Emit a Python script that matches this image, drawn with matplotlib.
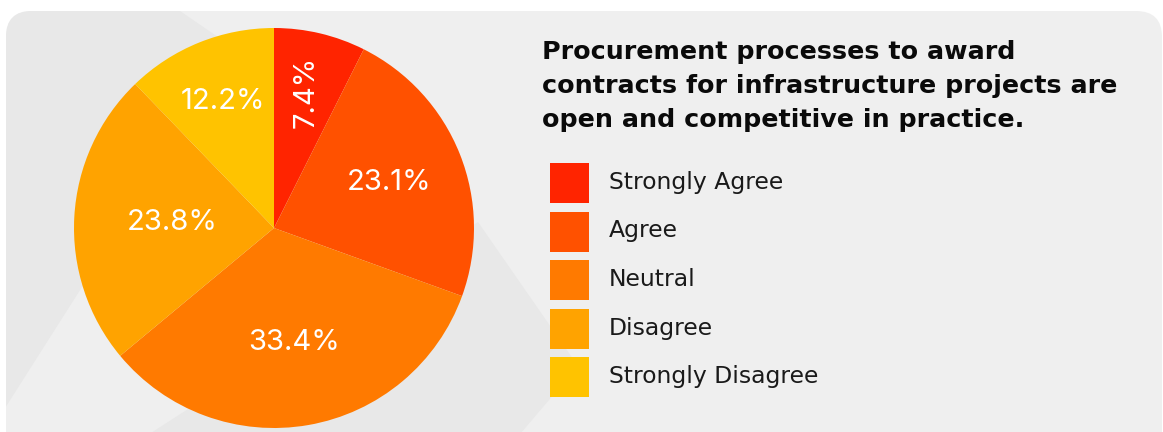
import matplotlib.pyplot as plt
from matplotlib.patches import FancyBboxPatch, Polygon, Rectangle
import numpy as np

# survey answers
categories = ['Strongly Agree', 'Agree', 'Neutral', 'Disagree', 'Strongly Disagree']
shares = [7.4, 23.1, 33.4, 23.8, 12.2]
colors = ['#FF2400', '#FF5100', '#FF7A00', '#FFA300', '#FFC300']
title_lines = ['Procurement processes to award',
               'contracts for infrastructure projects are',
               'open and competitive in practice.']

W, H = 1163, 432
plt.rcParams['font.family'] = ['DejaVu Sans']

fig = plt.figure(figsize=(W / 100, H / 100), dpi=100)
fig.patch.set_facecolor('white')

# background card in pixel coords
bg = fig.add_axes([0, 0, 1, 1])
bg.set_xlim(0, W)
bg.set_ylim(H, 0)
bg.axis('off')

card = FancyBboxPatch((6, 11), 1156, 460, boxstyle='round,pad=0,rounding_size=26',
                      facecolor='#efefef', edgecolor='none')
bg.add_patch(card)
for pts in ([(0, 0), (164, 0), (234, 48), (0, 416)],
            [(478, 222), (578, 366), (515, 440), (140, 440)]):
    shade = Polygon(pts, closed=True, facecolor='#e8e8e8', edgecolor='none')
    bg.add_patch(shade)
    shade.set_clip_path(card)

# pie, centre (274, 228), radius 200 px
cx, cy, r = 274, 228, 200
pax = fig.add_axes([(cx - r) / W, (H - cy - r) / H, 2 * r / W, 2 * r / H])
wedges, _ = pax.pie(shares, colors=colors, startangle=90, counterclock=False,
                    radius=1, wedgeprops=dict(linewidth=0))
pax.set_xlim(-1, 1)
pax.set_ylim(-1, 1)
pax.set_aspect('equal')
pax.axis('off')

label_dist = [0.70, 0.62, 0.58, 0.51, 0.68]
for w, v, d in zip(wedges, shares, label_dist):
    ang = np.deg2rad((w.theta1 + w.theta2) / 2)
    rot = 90 if v < 10 else 0
    pax.text(d * np.cos(ang), d * np.sin(ang), f'{v:.1f}%', color='white',
             fontsize=21, ha='center', va='center', rotation=rot,
             family=['Inter', 'DejaVu Sans'])

# title
for i, line in enumerate(title_lines):
    bg.text(542, 59 + i * 34, line, fontsize=18.3, fontweight='bold',
            color='#0a0a0a', va='baseline', ha='left')

# legend
for i, (cat, col) in enumerate(zip(categories, colors)):
    top = 163 + i * 48.5
    bg.add_patch(Rectangle((550, top), 39, 40, facecolor=col, edgecolor='none'))
    bg.text(609, top + 26, cat, fontsize=16.9, color='#1a1a1a',
            va='baseline', ha='left')

fig.savefig('out.png', dpi=100)
